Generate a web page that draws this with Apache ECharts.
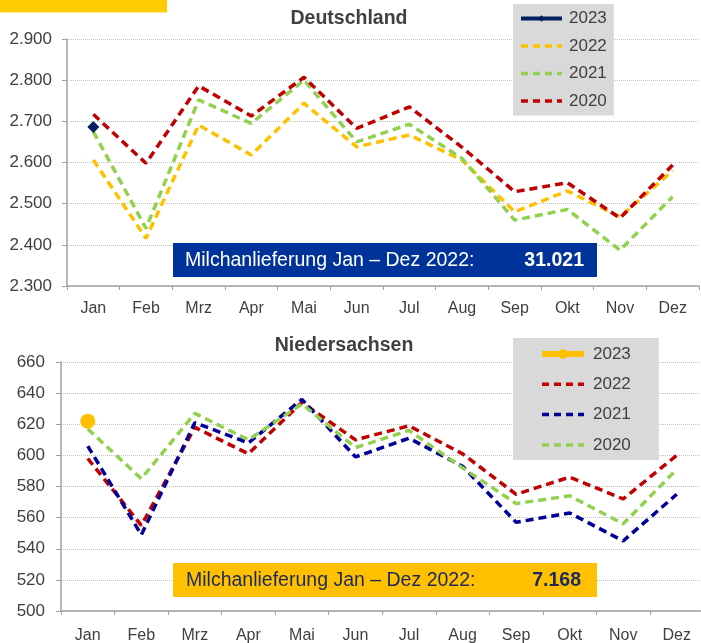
<!DOCTYPE html>
<html>
<head>
<meta charset="utf-8">
<script src="https://cdn.jsdelivr.net/npm/echarts@6/dist/echarts.min.js"></script>
<style>
  html, body { margin: 0; padding: 0; background: #fff; }
  #chart { width: 701px; height: 643px; }
</style>
</head>
<body>
<div id="chart"></div>
<script>
// Monate
var months = ['Jan', 'Feb', 'Mrz', 'Apr', 'Mai', 'Jun', 'Jul', 'Aug', 'Sep', 'Okt', 'Nov', 'Dez']

// Deutschland (1.000 t)
var de2023 = [2686]
var de2022 = [2606, 2416, 2691, 2618, 2744, 2638, 2667, 2606, 2480, 2531, 2468, 2580]
var de2021 = [2675, 2440, 2752, 2695, 2800, 2650, 2693, 2610, 2460, 2486, 2387, 2517]
var de2020 = [2717, 2598, 2786, 2713, 2807, 2683, 2735, 2637, 2529, 2551, 2465, 2594]

// Niedersachsen (1.000 t)
var ni2023 = [622]
var ni2022 = [598, 555, 618, 601, 634, 610, 619, 601, 575, 586, 572, 600]
var ni2021 = [606, 549, 621, 608, 636, 599, 611, 593, 557, 563, 545, 575]
var ni2020 = [617, 585, 627, 610, 633, 605, 616, 592, 569, 574, 556, 591]

var deTotal = '31.021'
var niTotal = '7.168'

var textGray = '#404040'
var axisGray = '#a0a0a0'

function deNum (v) {
  return String(v).replace(/\B(?=(\d{3})+(?!\d))/g, '.')
}

function dashed (name, color, data, idx) {
  return {
    name: name,
    type: 'line',
    xAxisIndex: idx,
    yAxisIndex: idx,
    data: data,
    symbol: 'none',
    lineStyle: { color: color, width: 3.5, type: [8, 5] },
    itemStyle: { color: color }
  }
}

function xAxisOf (idx, margin) {
  return {
    type: 'category',
    gridIndex: idx,
    data: months,
    boundaryGap: true,
    axisLine: { lineStyle: { color: axisGray, width: 1.5 } },
    axisTick: { show: true, length: 4, lineStyle: { color: axisGray, width: 1 } },
    axisLabel: { color: textGray, fontSize: 16, fontFamily: 'Liberation Sans', margin: margin },
    splitLine: { show: false }
  }
}

function yAxisOf (idx, min, max, step, margin, fmt) {
  return {
    type: 'value',
    gridIndex: idx,
    min: min,
    max: max,
    interval: step,
    axisLine: { show: true, lineStyle: { color: axisGray, width: 1.5 } },
    axisTick: { show: true, length: 5, lineStyle: { color: axisGray, width: 1 } },
    axisLabel: { color: textGray, fontSize: 17, fontFamily: 'Liberation Sans', margin: margin, formatter: fmt },
    splitLine: { show: true, lineStyle: { color: '#c0c0c0', width: 1, type: 'dotted' } }
  }
}

function dashItem (name) {
  return { name: name, itemStyle: { opacity: 0 }, lineStyle: { width: 3.5, type: [7, 5] } }
}

var myChart = echarts.init(document.getElementById('chart'))

var option = {
  animation: false,
  backgroundColor: '#ffffff',
  textStyle: { fontFamily: 'Liberation Sans' },
  grid: [
    { left: 67, right: 2, top: 39, height: 247, outerBoundsMode: 'none' },
    { left: 61, right: -2.5, top: 362, height: 249, outerBoundsMode: 'none' }
  ],
  xAxis: [xAxisOf(0, 15), xAxisOf(1, 17)],
  yAxis: [
    yAxisOf(0, 2300, 2900, 100, 15, deNum),
    yAxisOf(1, 500, 660, 20, 16, null)
  ],
  legend: [
    {
      orient: 'vertical',
      left: 513,
      top: 4,
      padding: [6, 7, 6, 6],
      backgroundColor: '#d9d9d9',
      itemWidth: 41,
      itemHeight: 8,
      itemGap: 10.5,
      textStyle: { color: textGray, fontSize: 17, lineHeight: 17, padding: [0, 0, 0, 2] },
      formatter: function (n) { return n.slice(2) },
      data: [
        { name: 'D 2023', lineStyle: { width: 4 } },
        dashItem('D 2022'),
        dashItem('D 2021'),
        dashItem('D 2020')
      ]
    },
    {
      orient: 'vertical',
      left: 513,
      top: 338,
      padding: [7.5, 28, 6.5, 26],
      backgroundColor: '#d9d9d9',
      itemWidth: 42,
      itemHeight: 12,
      itemGap: 13.3,
      textStyle: { color: textGray, fontSize: 17, lineHeight: 17, padding: [0, 0, 0, 4] },
      formatter: function (n) { return n.slice(2) },
      data: [
        { name: 'N 2023', lineStyle: { width: 6 } },
        dashItem('N 2022'),
        dashItem('N 2021'),
        dashItem('N 2020')
      ]
    }
  ],
  graphic: [
    { type: 'rect', left: 0, top: 0, shape: { width: 167, height: 12.5 }, style: { fill: '#ffcc00' } },
    { type: 'text', x: 349, y: 19, style: { text: 'Deutschland', fill: textGray, font: 'bold 19.5px "Liberation Sans"', textAlign: 'center', textVerticalAlign: 'middle' } },
    { type: 'text', x: 344, y: 346, style: { text: 'Niedersachsen', fill: textGray, font: 'bold 19.5px "Liberation Sans"', textAlign: 'center', textVerticalAlign: 'middle' } },
    { type: 'rect', x: 173, y: 243, shape: { width: 424, height: 34 }, style: { fill: '#003399' }, z: 10 },
    { type: 'text', x: 185, y: 261, z: 11, style: { text: 'Milchanlieferung Jan \u2013 Dez 2022:', fill: '#ffffff', font: '19.5px "Liberation Sans"', textVerticalAlign: 'middle' } },
    { type: 'text', x: 584, y: 261, z: 11, style: { text: deTotal, fill: '#ffffff', font: 'bold 19.5px "Liberation Sans"', textAlign: 'right', textVerticalAlign: 'middle' } },
    { type: 'rect', x: 173, y: 563, shape: { width: 424, height: 34 }, style: { fill: '#ffc000' }, z: 10 },
    { type: 'text', x: 186, y: 581, z: 11, style: { text: 'Milchanlieferung Jan \u2013 Dez 2022:', fill: '#1c2a5c', font: '19.5px "Liberation Sans"', textVerticalAlign: 'middle' } },
    { type: 'text', x: 581, y: 581, z: 11, style: { text: niTotal, fill: '#1c2a5c', font: 'bold 19.5px "Liberation Sans"', textAlign: 'right', textVerticalAlign: 'middle' } }
  ],
  series: [
    dashed('D 2022', '#ffc000', de2022, 0),
    dashed('D 2021', '#92d050', de2021, 0),
    dashed('D 2020', '#c00000', de2020, 0),
    {
      name: 'D 2023',
      type: 'line',
      xAxisIndex: 0,
      yAxisIndex: 0,
      data: de2023,
      symbol: 'diamond',
      symbolSize: 12,
      lineStyle: { color: '#002060', width: 4 },
      itemStyle: { color: '#002060' },
      z: 5
    },
    dashed('N 2022', '#c00000', ni2022, 1),
    dashed('N 2021', '#000099', ni2021, 1),
    dashed('N 2020', '#92d050', ni2020, 1),
    {
      name: 'N 2023',
      type: 'line',
      xAxisIndex: 1,
      yAxisIndex: 1,
      data: ni2023,
      symbol: 'circle',
      symbolSize: 15,
      lineStyle: { color: '#ffc000', width: 6 },
      itemStyle: { color: '#ffc000' },
      z: 5
    }
  ]
}
myChart.setOption(option)
</script>
</body>
</html>
